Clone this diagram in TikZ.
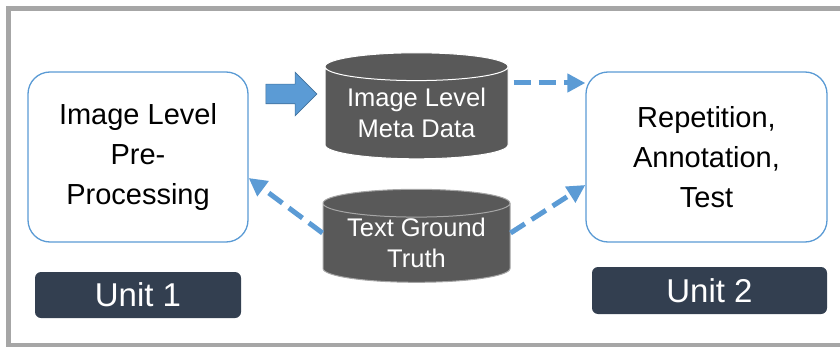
\documentclass[tikz,border=0pt]{standalone}
\usepackage{fontspec}
\setmainfont{Liberation Sans}
\usetikzlibrary{arrows.meta}
\usetikzlibrary{shapes.geometric,shapes.arrows}

\definecolor{boxblue}{HTML}{5B9BD5}
\definecolor{arrowedge}{HTML}{41719C}
\definecolor{dbgray}{HTML}{595959}
\definecolor{unitnavy}{HTML}{333F50}
\definecolor{framegray}{HTML}{A6A6A6}

\tikzset{
  stagebox/.style={draw=boxblue, line width=1.3pt, rounded corners=22pt, fill=white,
    align=center, font=\fontsize{29}{40}\selectfont, inner sep=0pt},
  unitbox/.style={fill=unitnavy, rounded corners=6pt, text=white, inner sep=0pt,
    font=\fontsize{33}{40}\selectfont},
  dbase/.style={cylinder, shape border rotate=90, aspect=0.2, fill=dbgray,
    text=white, align=center, inner sep=0pt, line width=1pt,
    font=\fontsize{25.5}{31}\selectfont},
  dasharr/.style={draw=boxblue, line width=5pt, dash pattern=on 17pt off 8pt,
    -{Triangle[length=18pt,width=18pt]}},
}

\begin{document}
\begin{tikzpicture}[x=1pt,y=1pt]
      \useasboundingbox (0,0) rectangle (840,346);
      \draw[framegray, line width=5pt] (8.5,0.5) rectangle (850,337.5);

      \node[stagebox, minimum width=220pt, minimum height=170pt] (pre) at (138,189)
        {Image Level\\Pre-\\Processing};
      \node[stagebox, minimum width=241pt, minimum height=170pt] (rep) at (706.5,189)
        {Repetition,\\Annotation,\\Test};

      \node[unitbox, minimum width=206pt, minimum height=46pt] (unit1) at (138,51) {Unit 1};
      \node[unitbox, minimum width=235pt, minimum height=47pt] (unit2) at (709.5,55.5) {Unit 2};

      \node[dbase, draw=white, minimum width=183pt, minimum height=106pt] (meta) at (416.5,233)
        {Image Level\\Meta Data};
      \node[dbase, draw=gray!70, minimum width=187pt, minimum height=93pt] (truth) at (416.5,103)
        {Text Ground\\Truth};

      \node[single arrow, fill=boxblue, draw=arrowedge, line width=0.6pt,
        minimum height=51pt, single arrow head extend=12pt,
        inner sep=0pt] (push) at (286.5,252) {\rule{0pt}{19pt}};

      \draw[dasharr] ([xshift=5pt]meta.east |- 0,263) -- (rep.west |- 0,263);
      \draw[dasharr] ([yshift=10pt]truth.west) -- ([yshift=-21pt]pre.east);
      \draw[dasharr] ([yshift=10pt]truth.east) -- ([yshift=-28pt]rep.west);
    \end{tikzpicture}
\end{document}
